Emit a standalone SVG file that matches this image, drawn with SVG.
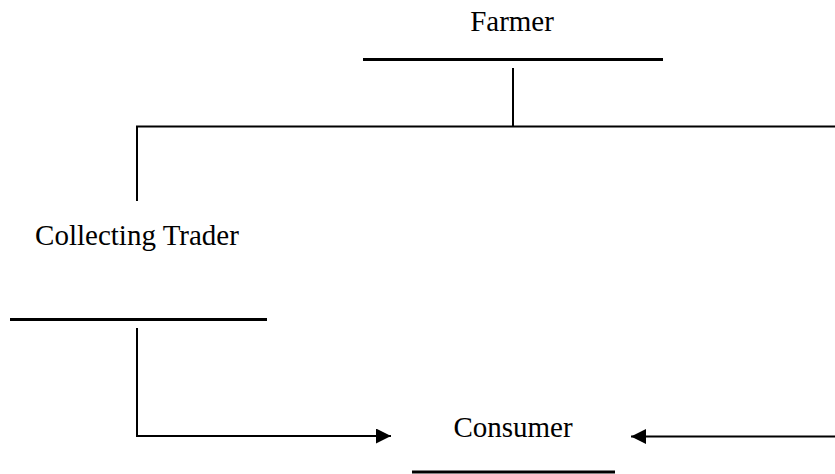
<svg xmlns="http://www.w3.org/2000/svg" width="835" height="474" viewBox="0 0 835 474">
<defs>
<style>
text{font-family:'Liberation Serif','DejaVu Serif',serif;font-size:29px;fill:#000;text-anchor:middle}
.ul{stroke:#000;stroke-width:3;fill:none}
.cn{stroke:#000;stroke-width:2;fill:none}
</style>
<marker id="ah" viewBox="0 0 15 15" refX="15" refY="7.5" markerWidth="15" markerHeight="15" markerUnits="userSpaceOnUse" orient="auto">
<path d="M0,0 L15,7.5 L0,15 Z" fill="#000"/>
</marker>
</defs>
<rect width="835" height="474" fill="#fff"/>
<g id="farmer">
<text x="512" y="31" font-family="Liberation Serif, serif">Farmer</text>
<line class="ul" x1="363" y1="59.5" x2="663" y2="59.5"/>
</g>
<g id="collecting-trader">
<text x="137" y="245" font-family="Liberation Serif, serif">Collecting Trader</text>
<line class="ul" x1="10" y1="319.5" x2="267" y2="319.5"/>
</g>
<g id="consumer">
<text x="513" y="437" font-family="Liberation Serif, serif">Consumer</text>
<line class="ul" x1="412" y1="472" x2="615" y2="472"/>
</g>
<g id="connectors">
<polyline class="cn" points="513,68 513,126.5"/>
<polyline class="cn" points="137,201 137,126.5 835,126.5"/>
<polyline class="cn" points="137,328 137,436 391,436" marker-end="url(#ah)"/>
<polyline class="cn" points="835,436.5 631,436.5" marker-end="url(#ah)"/>
</g>
</svg>
